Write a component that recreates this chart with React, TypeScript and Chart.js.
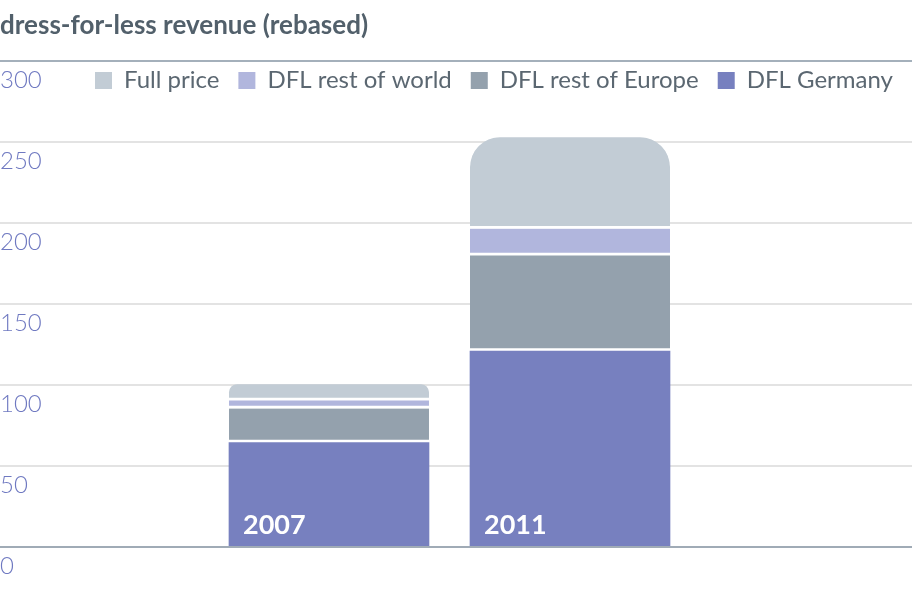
import { useEffect, useRef } from "react";
import { Chart, registerables } from "chart.js";

Chart.register(...registerables);

// Revenue index, 2007 total = 100
const years = ["2007", "2011"];
const dflGermany = [64.5, 121];
const dflRestOfEurope = [21, 59];
const dflRestOfWorld = [5, 16.5];
const fullPrice = [10, 56.5];
const yTickValues = [0, 50, 100, 150, 200, 250, 300];

const FONT = "Lato, 'Open Sans', sans-serif";
const TEXT_GREY = "#5b6771";

const toPoints = (values: number[]) => values.map((y, x) => ({ x, y }));

// white separator drawn along the bottom edge of each upper segment
const SEPARATOR = { top: 0, right: 0, bottom: 3, left: 0 };

// keeps the legend row inside the plot, just under the top rule
const legendInsidePlot = {
  id: "legendInsidePlot",
  afterLayout(chart: any) {
    const legend = chart.legend;
    if (!legend) return;
    const { width, height } = legend;
    legend.left = 76;
    legend.right = legend.left + width;
    legend.top = chart.chartArea.top - 11.5;
    legend.bottom = legend.top + height;
  },
};

export default function App() {
  const canvasRef = useRef<HTMLCanvasElement>(null);

  useEffect(() => {
    const canvas = canvasRef.current;
    if (!canvas) return;

    const chart = new Chart(canvas, {
      type: "bar",
      data: {
        datasets: [
          {
            label: "DFL Germany",
            data: toPoints(dflGermany),
            backgroundColor: "#7780bf",
            borderWidth: 0,
          },
          {
            label: "DFL rest of Europe",
            data: toPoints(dflRestOfEurope),
            backgroundColor: "#94a1ad",
            borderColor: "#ffffff",
            borderWidth: SEPARATOR,
            borderSkipped: false,
          },
          {
            label: "DFL rest of world",
            data: toPoints(dflRestOfWorld),
            backgroundColor: "#b1b6dd",
            borderColor: "#ffffff",
            borderWidth: SEPARATOR,
            borderSkipped: false,
          },
          {
            label: "Full price",
            data: toPoints(fullPrice),
            backgroundColor: "#c2ccd5",
            borderColor: "#ffffff",
            borderWidth: SEPARATOR,
            borderSkipped: false,
            borderRadius: { topLeft: 30, topRight: 30, bottomLeft: 0, bottomRight: 0 },
          },
        ] as any,
      },
      options: {
        animation: false,
        responsive: true,
        maintainAspectRatio: false,
        layout: { padding: 0 },
        datasets: { bar: { barThickness: 200 } },
        plugins: {
          tooltip: { enabled: false },
          title: {
            display: true,
            text: "dress-for-less revenue (rebased)",
            align: "start",
            color: "#52606b",
            font: { family: FONT, size: 26, weight: "bold", lineHeight: 1.2 },
            padding: { top: 10.4, bottom: 19.4 },
          },
          legend: {
            display: true,
            position: "bottom",
            align: "start",
            reverse: true,
            labels: {
              boxWidth: 17,
              boxHeight: 17,
              padding: 19,
              color: TEXT_GREY,
              font: { family: FONT, size: 24 },
              generateLabels: (c: any) =>
                Chart.defaults.plugins.legend.labels
                  .generateLabels(c)
                  .map((item: any) => ({ ...item, lineWidth: 0 })),
            },
          },
        },
        scales: {
          x: {
            type: "linear",
            stacked: true,
            min: -1.365,
            max: 2.419,
            offset: false,
            z: 1,
            grid: { display: false, drawTicks: false },
            border: { display: true, color: "#a0abb6", width: 2, z: 1 },
            ticks: {
              z: 1,
              stepSize: 1,
              includeBounds: false,
              autoSkip: false,
              maxRotation: 0,
              mirror: true,
              padding: 0,
              align: "start",
              labelOffset: -86,
              color: "#ffffff",
              font: { family: FONT, size: 27, weight: "bold", lineHeight: 44 / 27 },
              callback: (v: any) => years[v as number] ?? "",
            },
          },
          y: {
            stacked: true,
            min: 0,
            max: 300,
            afterBuildTicks: (axis: any) => {
              axis.ticks = yTickValues.map((value) => ({ value }));
            },
            border: { display: false },
            grid: {
              drawTicks: false,
              lineWidth: 2,
              color: (ctx: any) =>
                ctx.tick && ctx.tick.value === 300
                  ? "#a4b0bb"
                  : ctx.tick && ctx.tick.value === 0
                  ? "rgba(0,0,0,0)"
                  : "#e3e3e3",
            },
            ticks: {
              mirror: true,
              padding: 0,
              labelOffset: 19,
              color: "#6f79c1",
              font: { family: FONT, size: 24, weight: "300" },
            },
          },
        },
      } as any,
      plugins: [legendInsidePlot],
    });

    return () => chart.destroy();
  }, []);

  return (
    <div style={{ position: "absolute", left: 0, top: 0, width: 912, height: 600 }}>
      <canvas ref={canvasRef} />
    </div>
  );
}
